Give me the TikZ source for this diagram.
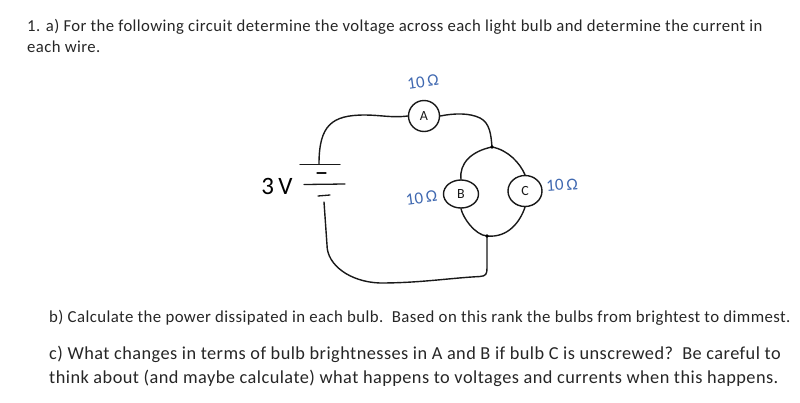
\documentclass[tikz,border=0pt]{standalone}
\usepackage{fontspec}
\setmainfont[LetterSpace=2.5]{Carlito}
\newfontfamily\handfont{Carlito}
\definecolor{inkblue}{HTML}{3F68B0}
\tikzset{
  textline/.style={anchor=base west, inner sep=0pt, text=black!85, font=\fontsize{16.7}{18}\selectfont},
  bigline/.style={textline, font=\fontsize{18.3}{20}\selectfont},
  wire/.style={line width=1.4pt, black!90, line cap=round},
  plate/.style={line width=1.3pt, black!90, line cap=round},
  bulb/.style={draw, ellipse, line width=1.4pt, black!90, inner sep=0pt, font=\handfont\fontsize{14}{14}\selectfont},
  ohmlabel/.style={inner sep=0pt, text=inkblue, font=\handfont\fontsize{17}{17}\selectfont}
}
\usetikzlibrary{shapes.geometric}
\begin{document}
\begin{tikzpicture}[x=1pt,y=-1pt]
\useasboundingbox (0,0) rectangle (800,402);

\node[textline] (line1) at (27,31) {1. a) For the following circuit determine the voltage across each light bulb and determine the current in};
\node[textline] (line2) at (27,52) {each wire.};
\node[textline, font=\fontsize{16.8}{18}\selectfont] (line3) at (49,322) {b) Calculate the power dissipated in each bulb.\ \ Based on this rank the bulbs from brightest to dimmest.};
\node[bigline] (line4) at (49,359) {c) What changes in terms of bulb brightnesses in A and B if bulb C is unscrewed?\ \ Be careful to};
\node[bigline] (line5) at (49,383) {think about (and maybe calculate) what happens to voltages and currents when this happens.};

% battery
\coordinate (battop) at (319,164);
\coordinate (batbot) at (324,202);
\draw[plate] (300,164.5) -- (340,164.5);
\draw[plate] (317,173) -- (326,173);
\draw[plate] (304,184.5) -- (345,184);
\draw[plate] (318,196) -- (330,195);
\node[inner sep=0pt, font=\handfont\fontsize{25}{25}\selectfont] (volt) at (277,186) {3\,V};

% bulbs
\node[bulb, minimum width=31pt, minimum height=31pt] (A) at (424,116) {A};
\node[bulb, minimum width=35pt, minimum height=28pt] (B) at (461,194) {B};
\node[bulb, minimum width=34pt, minimum height=31pt] (C) at (525,191) {C};
\coordinate (top) at (492,147);
\coordinate (bot) at (487,236);

\node[ohmlabel, rotate=8] (Rtop) at (423,82) {10\,Ω};
\node[ohmlabel, rotate=8] (Rb) at (421.5,198) {10\,Ω};
\node[ohmlabel, rotate=4] (Rc) at (562,185) {10\,Ω};

% wires
\draw[wire] (battop) .. controls (319,125) and (332,115) .. (365,115) .. controls (380,115) and (392,118) .. (A.west);
\draw[wire] (A.east) .. controls (455,113) and (470,113) .. (480,118) .. controls (490,123) and (491,135) .. (top);
\draw[wire] (top) .. controls (472,151) and (459,163) .. (B.north);
\draw[wire] (top) .. controls (508,150) and (520,163) .. (C.north);
\draw[wire] (B.south) .. controls (463,218) and (475,235) .. (bot);
\draw[wire] (C.south) .. controls (520,222) and (508,238) .. (bot);
\draw[wire] (bot) -- (487,268) .. controls (487,274) and (486,276) .. (480,276.5) .. controls (450,278) and (420,283) .. (380,283) .. controls (350,282) and (327,265) .. (327,245) -- (batbot);
\fill (top) circle (1.8pt);
\fill (bot) circle (1.8pt);
\end{tikzpicture}
\end{document}
